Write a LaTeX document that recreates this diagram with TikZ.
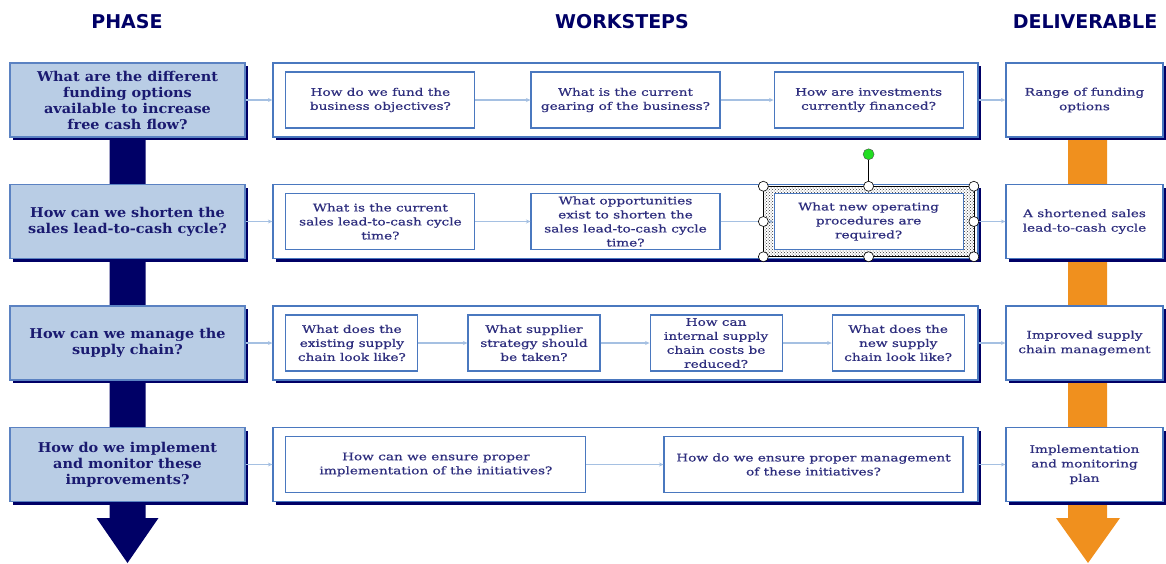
\documentclass[tikz,border=0pt]{standalone}
\usepackage{fontspec}
\setmainfont{DejaVu Serif}
\newfontfamily\headfont{DejaVu Sans}
\newfontfamily\phasefont[FakeStretch=1.07]{DejaVu Serif}
\newfontfamily\stepfont[FakeStretch=1.3, FakeBold=0.6]{DejaVu Serif}
\usepackage{xcolor}
\usepackage{tikz}
\usetikzlibrary{positioning,arrows.meta,calc,fit,shadows,patterns}

\definecolor{navy}{HTML}{000066}
\definecolor{phasefill}{HTML}{B9CDE5}
\definecolor{phaseline}{HTML}{5B82C2}
\definecolor{boxline}{HTML}{4A78BF}
\definecolor{linkblue}{HTML}{A5C0E2}
\definecolor{txtnavy}{HTML}{1A1A70}
\definecolor{steptxt}{HTML}{2E2E7E}
\definecolor{delivorange}{HTML}{F0901E}
\definecolor{handlegreen}{HTML}{22DD22}

\begin{document}
\begin{tikzpicture}[
  x=1pt, y=-1pt,
  node distance=46.2pt and 26.7pt,
  head/.style={font=\headfont\bfseries\fontsize{19}{22}\selectfont, text=navy},
  phase/.style={draw=phaseline, line width=1.3pt, fill=phasefill,
                minimum width=235pt, minimum height=74pt, align=center, inner sep=2pt,
                text=txtnavy, font=\phasefont\bfseries\fontsize{13.5}{16}\selectfont,
                general shadow={fill=navy, shadow xshift=3pt, shadow yshift=-3pt}},
  rowbox/.style={draw=boxline, line width=1.3pt, fill=white,
                minimum width=705pt, minimum height=74pt,
                general shadow={fill=navy, shadow xshift=3pt, shadow yshift=-3pt}},
  delivbox/.style={rowbox, minimum width=157pt, align=center, text=steptxt,
                font=\stepfont\fontsize{10.5}{14.5}\selectfont},
  stepbox/.style={draw=boxline, line width=1.1pt, fill=white,
                minimum height=56pt, align=center, inner sep=1pt, text=steptxt,
                font=\stepfont\fontsize{10.5}{14}\selectfont},
  link/.style={-{Stealth[length=4.5pt, width=4pt]}, linkblue, line width=1.2pt},
  handle/.style={draw=black, fill=white, line width=0.6pt}
]
\useasboundingbox (0,0) rectangle (1166,563);

% ---- column heads ----
\node[head] (hphase) at (127,22) {PHASE};
\node[head] (hwork)  at (622,22) {WORKSTEPS};
\node[head] (hdeliv) at (1085,22) {DELIVERABLE};

% ---- big arrows behind the side columns ----
\fill[navy] (109.5,100) -- (145.5,100) -- (145.5,518) -- (158.5,518)
  -- (127.5,563) -- (96.5,518) -- (109.5,518) -- cycle;
\fill[delivorange] (1068,100) -- (1107,100) -- (1107,518) -- (1120,518)
  -- (1088,563) -- (1056,518) -- (1068,518) -- cycle;

% ---- phases ----
\node[phase] (ph1) at (127.5,100)
  {What are the different\\ funding options\\ available to increase\\ free cash flow?};
\node[phase, below=of ph1] (ph2) {How can we shorten the\\ sales lead-to-cash cycle?};
\node[phase, below=of ph2] (ph3) {How can we manage the\\ supply chain?};
\node[phase, below=of ph3] (ph4) {How do we implement\\ and monitor these\\ improvements?};

% ---- workstep rows and deliverables ----
\node[rowbox, right=of ph1] (row1) {};
\node[rowbox, right=of ph2] (row2) {};
\node[rowbox, right=of ph3] (row3) {};
\node[rowbox, right=of ph4] (row4) {};

\node[delivbox, right=of row1] (dl1) {Range of funding\\ options};
\node[delivbox, right=of row2] (dl2) {A shortened sales\\ lead-to-cash cycle};
\node[delivbox, right=of row3] (dl3) {Improved supply\\ chain management};
\node[delivbox, right=of row4] (dl4) {Implementation\\ and monitoring\\ plan};

% ---- row 1 ----
\node[stepbox, minimum width=189pt, right=13pt of row1.west] (s11)
  {How do we fund the\\ business objectives?};
\node[stepbox, minimum width=189pt, right=55pt of s11] (s12)
  {What is the current\\ gearing of the business?};
\node[stepbox, minimum width=189pt, right=53pt of s12] (s13)
  {How are investments\\ currently financed?};

% ---- row 2 ----
\node[stepbox, minimum width=189pt, right=13pt of row2.west] (s21)
  {What is the current\\ sales lead-to-cash cycle\\ time?};
\node[stepbox, minimum width=189pt, right=55pt of s21] (s22)
  {What opportunities\\ exist to shorten the\\ sales lead-to-cash cycle\\ time?};
\node[stepbox, minimum width=189pt, right=53pt of s22] (s23)
  {What new operating\\ procedures are\\ required?};

% ---- row 3 ----
\node[stepbox, minimum width=132pt, right=13pt of row3.west] (s31)
  {What does the\\ existing supply\\ chain look like?};
\node[stepbox, minimum width=132pt, right=49pt of s31] (s32)
  {What supplier\\ strategy should\\ be taken?};
\node[stepbox, minimum width=132pt, right=49pt of s32] (s33)
  {How can\\ internal supply\\ chain costs be\\ reduced?};
\node[stepbox, minimum width=132pt, right=49pt of s33] (s34)
  {What does the\\ new supply\\ chain look like?};

% ---- row 4 ----
\node[stepbox, minimum width=300pt, right=13pt of row4.west] (s41)
  {How can we ensure proper\\ implementation of the initiatives?};
\node[stepbox, minimum width=299pt, right=77pt of s41] (s42)
  {How do we ensure proper management\\ of these initiatives?};

% ---- links ----
\foreach \r in {1,...,4}{
  \draw[link] (ph\r) -- (row\r);
  \draw[link] (row\r) -- (dl\r);
}
\draw[link] (s11) -- (s12);
\draw[link] (s12) -- (s13);
\draw[link] (s21) -- (s22);
\draw[link] (s22) -- (s23);
\draw[link] (s31) -- (s32);
\draw[link] (s32) -- (s33);
\draw[link] (s33) -- (s34);
\draw[link] (s41) -- (s42);

% ---- selection frame on the third step of row 2 ----
\node[fit=(s23), inner xsep=10pt, inner ysep=6.5pt] (sel) {};
\fill[pattern=crosshatch dots, pattern color=black!80, even odd rule]
  (sel.north west) rectangle (sel.south east)
  (s23.north west) rectangle (s23.south east);
\draw[black, line width=0.6pt] (sel.north west) rectangle (sel.south east);
\node[circle, draw=black!70, fill=handlegreen, minimum size=11pt, inner sep=0pt]
  (rot) at ($(sel.north)+(0,-32)$) {};
\draw[black, line width=1.2pt] (rot) -- (sel.north);
\foreach \a in {north west,north,north east,east,south east,south,south west,west}
  \draw[handle] (sel.\a) circle (5pt);
\end{tikzpicture}
\end{document}
